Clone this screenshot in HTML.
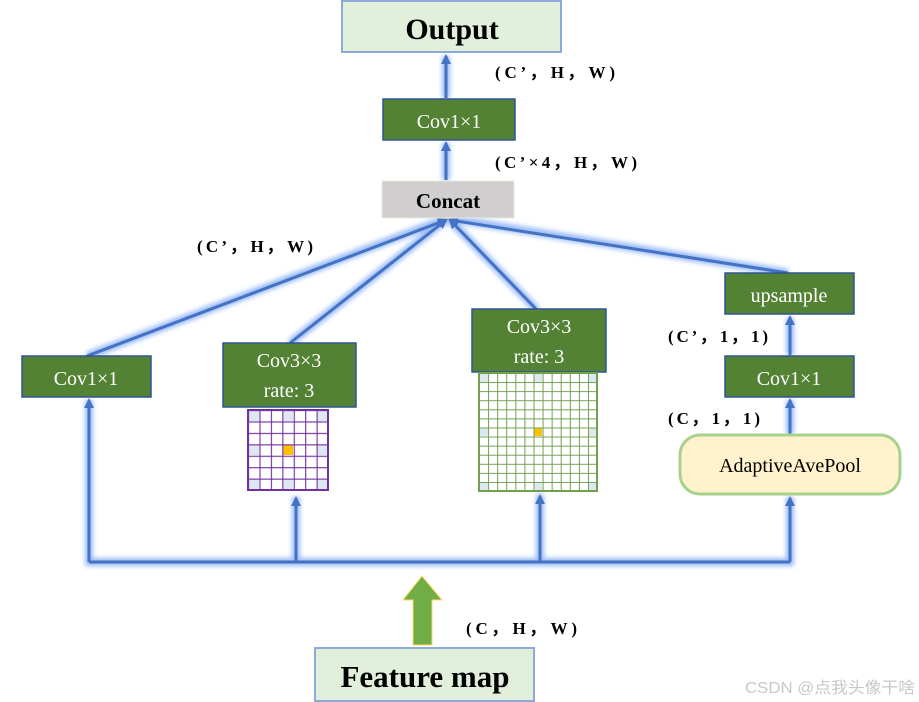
<!DOCTYPE html>
<html><head><meta charset="utf-8"><style>
html,body{margin:0;padding:0;background:#fff;}
svg{display:block;}
.b{font-family:"Liberation Serif",serif;font-weight:bold;fill:#000;}
.w{font-family:"Liberation Serif",serif;fill:#fff;}
</style></head><body>
<svg width="919" height="702" viewBox="0 0 919 702" xmlns="http://www.w3.org/2000/svg">
<defs>
<filter id="glow" x="-20%" y="-20%" width="140%" height="140%">
<feGaussianBlur stdDeviation="2.5"/>
</filter>
<pattern id="pA" x="248" y="410" width="11.43" height="11.43" patternUnits="userSpaceOnUse">
<path d="M0 0H11.43M0 0V11.43" stroke="#7030a0" stroke-width="2.2" fill="none"/>
</pattern>
<pattern id="pB" x="479" y="373" width="9.08" height="9.08" patternUnits="userSpaceOnUse">
<path d="M0 0H9.08M0 0V9.08" stroke="#70a050" stroke-width="2" fill="none"/>
</pattern>
<marker id="ar" markerWidth="10" markerHeight="10" refX="8" refY="5" orient="auto" markerUnits="userSpaceOnUse">
<path d="M0 0L10 5L0 10z" fill="#4472c4"/>
</marker>
</defs>

<g stroke="#8fb4f5" stroke-width="8" fill="none" filter="url(#glow)" opacity="0.9">
<path d="M89 400V562H790V497M296 562V497M540 562V494"/>
<path d="M448 218L87 356M448 218L290 343M448 218L537 310M448 218L788 273"/>
<path d="M446 98V56M446 180V143M790 355V318M790 434V400"/>
</g>
<g stroke="#4472c4" stroke-width="3" fill="none">
<path d="M89 562H790"/>
<path d="M89 562V400" marker-end="url(#ar)"/>
<path d="M296 562V498" marker-end="url(#ar)"/>
<path d="M540 562V496" marker-end="url(#ar)"/>
<path d="M790 562V498" marker-end="url(#ar)"/>
<path d="M87 356L446 220" marker-end="url(#ar)"/>
<path d="M290 343L446 220" marker-end="url(#ar)"/>
<path d="M537 310L450 220" marker-end="url(#ar)"/>
<path d="M788 273L450 220" marker-end="url(#ar)"/>
<path d="M446 98V56" marker-end="url(#ar)"/>
<path d="M446 180V143" marker-end="url(#ar)"/>
<path d="M790 355V317" marker-end="url(#ar)"/>
<path d="M790 434V400" marker-end="url(#ar)"/>
</g>

<rect x="342" y="1" width="219" height="51" fill="#e2efda" stroke="#8eaadb" stroke-width="2"/>
<text x="452" y="39" class="b" font-size="30" text-anchor="middle">Output</text>
<rect x="383" y="99" width="132" height="41" fill="#548235" stroke="#2f5597" stroke-width="1.5"/>
<text x="449" y="128" class="w" font-size="20" text-anchor="middle">Cov1×1</text>
<rect x="382" y="181" width="132" height="37" fill="#d0cece" stroke="#e2efda" stroke-width="1"/>
<text x="448" y="208" class="b" font-size="21" text-anchor="middle">Concat</text>

<rect x="22" y="356" width="129" height="41" fill="#548235" stroke="#2f5597" stroke-width="1.5"/>
<text x="86" y="385" class="w" font-size="20" text-anchor="middle">Cov1×1</text>

<rect x="223" y="343" width="133" height="64" fill="#548235" stroke="#2f5597" stroke-width="1.5"/>
<text x="289" y="367" class="w" font-size="20" text-anchor="middle">Cov3×3</text>
<text x="289" y="397" class="w" font-size="20" text-anchor="middle">rate: 3</text>
<rect x="248" y="410" width="80" height="80" fill="#fff"/>
<g fill="#dde8f2">
<rect x="249" y="411" width="10" height="10"/><rect x="283" y="411" width="10" height="10"/><rect x="317" y="411" width="10" height="10"/>
<rect x="249" y="445" width="10" height="10"/><rect x="317" y="445" width="10" height="10"/>
<rect x="249" y="479" width="10" height="10"/><rect x="283" y="479" width="10" height="10"/><rect x="317" y="479" width="10" height="10"/>
</g>
<rect x="283" y="445" width="10" height="10" fill="#ffc000"/>
<rect x="248" y="410" width="80" height="80" fill="url(#pA)" stroke="#7030a0" stroke-width="2"/>

<rect x="472" y="309" width="134" height="63" fill="#548235" stroke="#2f5597" stroke-width="1.5"/>
<text x="539" y="333" class="w" font-size="20" text-anchor="middle">Cov3×3</text>
<text x="539" y="363" class="w" font-size="20" text-anchor="middle">rate: 3</text>
<rect x="479" y="373" width="118" height="118" fill="#fff"/>
<g fill="#dde8f2">
<rect x="480" y="374" width="8" height="8"/><rect x="534" y="374" width="8" height="8"/><rect x="588" y="374" width="8" height="8"/>
<rect x="480" y="428" width="8" height="8"/><rect x="588" y="428" width="8" height="8"/>
<rect x="480" y="482" width="8" height="8"/><rect x="534" y="482" width="8" height="8"/><rect x="588" y="482" width="8" height="8"/>
</g>
<rect x="534" y="428" width="8" height="8" fill="#ffc000"/>
<rect x="479" y="373" width="118" height="118" fill="url(#pB)" stroke="#70a050" stroke-width="2"/>

<rect x="725" y="273" width="129" height="41" fill="#548235" stroke="#2f5597" stroke-width="1.5"/>
<text x="789" y="302" class="w" font-size="20" text-anchor="middle">upsample</text>
<rect x="725" y="356" width="129" height="41" fill="#548235" stroke="#2f5597" stroke-width="1.5"/>
<text x="789" y="385" class="w" font-size="20" text-anchor="middle">Cov1×1</text>
<rect x="680" y="435" width="220" height="59" rx="20" fill="#fff2cc" stroke="#a9d18e" stroke-width="3"/>
<text x="790" y="472" font-family="Liberation Serif,serif" font-size="20" text-anchor="middle" fill="#000">AdaptiveAvePool</text>

<path d="M413 645V600H403L422 576L442 600H432V645Z" fill="#70ad47" stroke="#ffd966" stroke-width="1"/>
<rect x="315" y="648" width="219" height="53" fill="#e2efda" stroke="#8eaadb" stroke-width="2"/>
<text x="425" y="687" class="b" font-size="31" text-anchor="middle">Feature map</text>

<g class="b" font-size="17">
<text x="495" y="78" textLength="120" lengthAdjust="spacing">(C’，H，W)</text>
<text x="495" y="168" textLength="142" lengthAdjust="spacing">(C’×4，H，W)</text>
<text x="197" y="252" textLength="116" lengthAdjust="spacing">(C’，H，W)</text>
<text x="668" y="342" textLength="100" lengthAdjust="spacing">(C’，1，1)</text>
<text x="668" y="424" textLength="92" lengthAdjust="spacing">(C，1，1)</text>
<text x="466" y="634" textLength="111" lengthAdjust="spacing">(C，H，W)</text>
</g>
<text x="745" y="693" font-family="Liberation Sans,'Noto Sans CJK SC',sans-serif" font-size="16" fill="#c8c8c8" textLength="170" lengthAdjust="spacingAndGlyphs">CSDN @点我头像干啥</text>
</svg>
</body></html>
